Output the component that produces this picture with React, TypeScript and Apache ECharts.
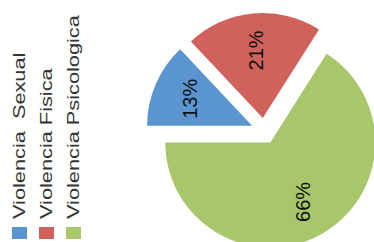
import React, { useEffect, useRef } from "react";
import * as echarts from "echarts";

const categories = ["Violencia  Sexual", "Violencia Fisica", "Violencia Psicologica"];
const values = [13, 21, 66];
const colors = ["#5b95d0", "#d0625b", "#a8c66a"];

export default function App() {
  const ref = useRef<HTMLDivElement>(null);
  useEffect(() => {
    if (!ref.current) return;
    const chart = echarts.init(ref.current, undefined, { renderer: "svg" });
    const center = [264, 131];
    const legendGraphics: any[] = [];
    categories.forEach((name, i) => {
      legendGraphics.push({
        type: "rect",
        left: 12 + 27 * i,
        top: 227,
        shape: { width: 15, height: 12 },
        style: { fill: colors[i] },
      });
      legendGraphics.push({
        type: "text",
        x: 20 + 27 * i,
        y: 219,
        rotation: Math.PI / 2,
        scaleX: 1.36,
        style: {
          text: name,
          fill: "#333",
          font: "16px 'Liberation Sans', Arial, sans-serif",
          textAlign: "left",
          textVerticalAlign: "middle",
        },
      });
    });
    chart.setOption({
      animation: false,
      graphic: legendGraphics,
      series: [
        {
          type: "pie",
          center,
          radius: 105,
          startAngle: 180,
          clockwise: true,
          selectedMode: "multiple",
          selectedOffset: 13,
          silent: true,
          emphasis: { disabled: true },
          label: { show: false },
          labelLine: { show: false },
          data: categories.map((n, i) => ({
            name: n,
            value: values[i],
            selected: true,
            itemStyle: { color: colors[i] },
            select: { itemStyle: { color: colors[i], borderWidth: 0 } },
          })),
        },
        {
          type: "pie",
          center,
          radius: 130,
          startAngle: 180,
          clockwise: true,
          selectedMode: "multiple",
          selectedOffset: 13,
          silent: true,
          emphasis: { disabled: true },
          itemStyle: { color: "rgba(0,0,0,0)" },
          label: {
            show: true,
            position: "inside",
            rotate: 90,
            formatter: "{c}%",
            color: "#111",
            fontSize: 20,
            fontFamily: "'Liberation Sans', Arial, sans-serif",
          },
          labelLine: { show: false },
          data: categories.map((n, i) => ({
            name: n,
            value: values[i],
            selected: true,
            select: { itemStyle: { color: "rgba(0,0,0,0)", borderWidth: 0 } },
          })),
        },
      ],
    });
    return () => chart.dispose();
  }, []);
  return (
    <div
      ref={ref}
      style={{ position: "absolute", left: 0, top: 0, width: 374, height: 242, background: "#fff" }}
    />
  );
}
